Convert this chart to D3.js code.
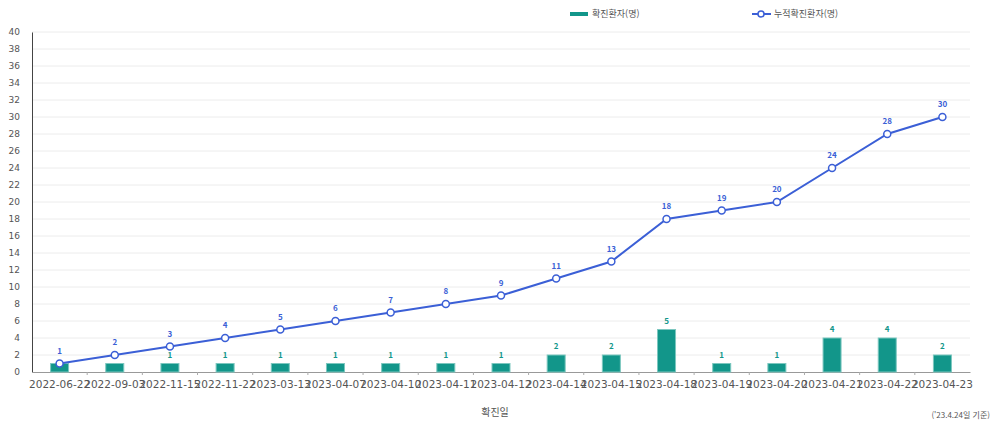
<!DOCTYPE html>
<html lang="ko">
<head>
  <meta charset="utf-8" />
  <title>확진환자 추이</title>
  <script src="https://cdn.jsdelivr.net/npm/d3@7"></script>
  <style>
    body { margin: 0; background: #fff; font-family: "Noto Sans CJK KR", "Noto Sans", sans-serif; }
    svg text { fill: #555; }
  </style>
</head>
<body>
<svg id="chart" width="992" height="423"></svg>
<script>
    // data
    var dates = ["2022-06-22","2022-09-03","2022-11-15","2022-11-22","2023-03-13","2023-04-07",
                 "2023-04-10","2023-04-11","2023-04-12","2023-04-14","2023-04-15","2023-04-18",
                 "2023-04-19","2023-04-20","2023-04-21","2023-04-22","2023-04-23"];
    var daily = [1,1,1,1,1,1,1,1,1,2,2,5,1,1,4,4,2];
    var cumulative = [1,2,3,4,5,6,7,8,9,11,13,18,19,20,24,28,30];
    var yTicks = d3.range(0, 41, 2);

    var barColor = "#12968a", lineColor = "#3b5fd6";
    var svg = d3.select("#chart");
    var m = {left: 32, right: 970, top: 32, bottom: 372};

    var x = d3.scaleBand().domain(dates).range([m.left, m.right]);
    var y = d3.scaleLinear().domain([0, 40]).range([m.bottom, m.top]);
    var cx = (d, i) => x(dates[i]) + x.bandwidth() / 2;

    // grid
    svg.append("g").selectAll("line").data(yTicks.slice(1)).join("line")
        .attr("x1", m.left).attr("x2", m.right)
        .attr("y1", d => y(d)).attr("y2", d => y(d))
        .attr("stroke", "#ececec");

    // y axis
    var yAxis = svg.append("g").attr("transform", "translate(" + m.left + ",0)")
        .call(d3.axisLeft(y).tickValues(yTicks).tickSize(0).tickPadding(12));
    yAxis.select(".domain").attr("stroke", "#444");
    yAxis.selectAll("text").style("font-size", "9px").style("font-family", "DejaVu Sans, sans-serif").attr("fill", "#555");

    // x axis
    var xAxis = svg.append("g").attr("transform", "translate(0," + m.bottom + ")")
        .call(d3.axisBottom(x).tickSize(0).tickPadding(9));
    xAxis.select(".domain").attr("stroke", "#999");
    xAxis.selectAll("text").style("font-size", "10.5px").style("font-family", "DejaVu Sans, sans-serif").attr("fill", "#555");
    // small ticks between categories
    svg.append("g").selectAll("line").data(dates.slice(1)).join("line")
        .attr("x1", d => x(d)).attr("x2", d => x(d))
        .attr("y1", m.bottom).attr("y2", m.bottom + 3)
        .attr("stroke", "#aaa");

    // bars
    var bw = 18;
    svg.append("g").selectAll("rect").data(daily).join("rect")
        .attr("x", (d, i) => cx(d, i) - bw / 2)
        .attr("y", d => y(d))
        .attr("width", bw)
        .attr("height", d => y(0) - y(d))
        .attr("fill", barColor)
        .attr("stroke", "#7cc7bf").attr("stroke-width", 1);
    svg.append("g").selectAll("text").data(daily).join("text")
        .attr("x", cx)
        .attr("y", d => y(d) - 6)
        .attr("text-anchor", "middle")
        .style("font-size", "8px").style("font-weight", "bold")
        .style("fill", barColor)
        .text((d, i) => i === 0 ? "" : d); // first one sits under the line label

    // cumulative line
    var line = d3.line().x(cx).y(d => y(d));
    svg.append("path").datum(cumulative)
        .attr("d", line).attr("fill", "none")
        .attr("stroke", lineColor).attr("stroke-width", 2);
    svg.append("g").selectAll("circle").data(cumulative).join("circle")
        .attr("cx", cx)
        .attr("cy", d => y(d))
        .attr("r", 3.5)
        .attr("fill", "#fff").attr("stroke", lineColor).attr("stroke-width", 1.5);
    svg.append("g").selectAll("text").data(cumulative).join("text")
        .attr("x", cx)
        .attr("y", d => y(d) - 10)
        .attr("text-anchor", "middle")
        .style("font-size", "8px").style("font-weight", "bold")
        .style("fill", lineColor)
        .text(d => d);

    // legend
    var lg = svg.append("g");
    lg.append("rect").attr("x", 570).attr("y", 12).attr("width", 18).attr("height", 4).attr("fill", barColor);
    lg.append("text").attr("x", 592).attr("y", 17).style("font-size", "9px").text("확진환자(명)");
    lg.append("line").attr("x1", 752).attr("x2", 771).attr("y1", 14).attr("y2", 14)
        .attr("stroke", lineColor).attr("stroke-width", 2);
    lg.append("circle").attr("cx", 761).attr("cy", 14).attr("r", 3)
        .attr("fill", "#fff").attr("stroke", lineColor).attr("stroke-width", 1.5);
    lg.append("text").attr("x", 774).attr("y", 17).style("font-size", "9px").text("누적확진환자(명)");

    // axis title and note
    svg.append("text").attr("x", 495).attr("y", 416).attr("text-anchor", "middle")
        .style("font-size", "10px").text("확진일");
    svg.append("text").attr("x", 990).attr("y", 418).attr("text-anchor", "end")
        .style("font-size", "8px").text("('23.4.24일 기준)");
</script>
</body>
</html>
